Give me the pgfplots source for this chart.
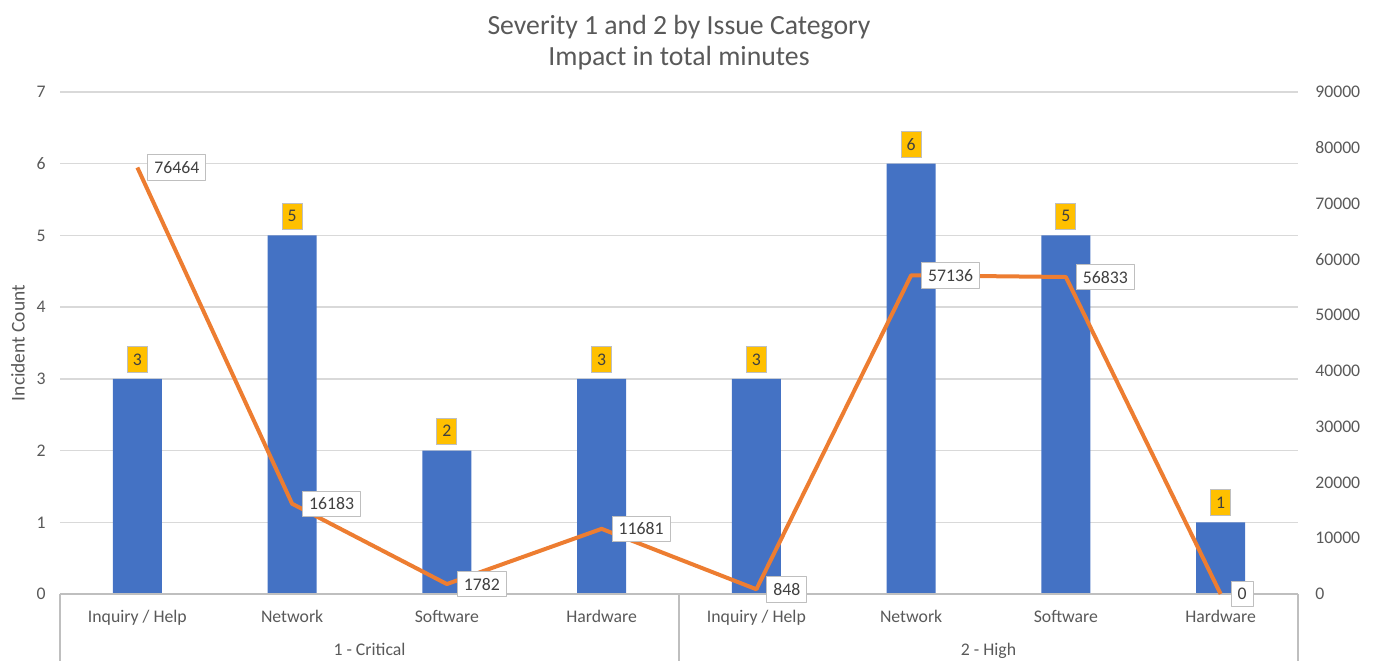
\documentclass[border=0pt]{standalone}
\usepackage{pgfplots}
\pgfplotsset{compat=1.18}
\usepackage{fontspec}
\setmainfont{Carlito}
\definecolor{barblue}{HTML}{4472C4}
\definecolor{lineorange}{HTML}{ED7D31}
\definecolor{txt}{HTML}{595959}
\definecolor{lbl}{HTML}{404040}
\definecolor{gridc}{HTML}{D9D9D9}
\definecolor{axisc}{HTML}{BFBFBF}
\definecolor{gold}{HTML}{FFC000}
\newcommand{\ticks}{\fontsize{13.3pt}{16pt}\selectfont}
\newcommand{\ylab}{\fontsize{14.6pt}{17pt}\selectfont}
\newcommand{\titlef}{\fontsize{20.8pt}{24pt}\selectfont}
\begin{document}
\begin{tikzpicture}
\begin{axis}[
  name=main,
  scale only axis, width=928.5pt, height=376.5pt,
  xmin=-0.5, xmax=7.5, ymin=0, ymax=7,
  clip=false,
  axis line style={draw=none},
  major tick length=0pt,
  xtick={0,...,7},
  xticklabels={Inquiry / Help,Network,Software,Hardware,Inquiry / Help,Network,Software,Hardware},
  xticklabel style={anchor=base, yshift=-21pt, inner sep=0pt, font=\ticks, text=txt},
  ytick={0,...,7},
  yticklabel style={anchor=east, xshift=-10.5pt, inner sep=0pt, font=\ticks, text=txt},
  /pgf/number format/assume math mode=true,
  ymajorgrids, grid style={gridc, line width=1pt},
  ybar, bar width=36.75pt,
  nodes near coords,
  every node near coord/.append style={anchor=south, yshift=4.5pt, fill=gold, draw=axisc, line width=0.6pt,
     inner sep=0pt, minimum width=15pt, minimum height=19.5pt, font=\ticks, text=lbl},
]
\addplot[fill=barblue, draw=none] coordinates {(0,3) (1,5) (2,2) (3,3) (4,3) (5,6) (6,5) (7,1)};
\draw[axisc, line width=1pt] (axis cs:-0.5,0) -- (axis cs:7.5,0);
\draw[axisc, line width=1pt] (axis cs:-0.5,0) -- ++(0pt,-50.25pt);
\draw[axisc, line width=1pt] (axis cs:3.5,0) -- ++(0pt,-50.25pt);
\draw[axisc, line width=1pt] (axis cs:7.5,0) -- ++(0pt,-50.25pt);
\node[font=\ticks, text=txt, anchor=base, yshift=-45.75pt] at (axis cs:1.5,0) {1 - Critical};
\node[font=\ticks, text=txt, anchor=base, yshift=-45.75pt] at (axis cs:5.5,0) {2 - High};
\node[font=\ylab, text=txt, xshift=-31.5pt, rotate=90] at (rel axis cs:0,0.5) {Incident Count};
\node[font=\titlef, text=txt, anchor=base, yshift=42.75pt] at (rel axis cs:0.5,1) {Severity 1 and 2 by Issue Category};
\node[font=\titlef, text=txt, anchor=base, yshift=19.5pt] at (rel axis cs:0.5,1) {Impact in total minutes};
\end{axis}
\begin{axis}[
  scale only axis, width=928.5pt, height=376.5pt,
  xmin=-0.5, xmax=7.5, ymin=0, ymax=90000,
  clip=false,
  hide x axis,
  axis line style={draw=none},
  major tick length=0pt,
  ytick={0,10000,...,90000},
  yticklabel pos=right,
  scaled y ticks=false,
  yticklabel style={anchor=west, xshift=12.75pt, inner sep=0pt, font=\ticks, text=txt,
     /pgf/number format/fixed, /pgf/number format/precision=0, /pgf/number format/1000 sep={}},
  /pgf/number format/assume math mode=true,
  point meta=explicit symbolic,
  nodes near coords,
  every node near coord/.append style={anchor=west, xshift=7.5pt, fill=white, draw=axisc, line width=0.6pt,
     inner xsep=4.9pt, inner ysep=0pt, minimum height=19pt, font=\ticks, text=lbl},
]
\addplot[lineorange, line width=3pt, line join=round, mark=none] coordinates {
  (0,76464) [76464] (1,16183) [16183] (2,1782) [1782] (3,11681) [11681]
  (4,848) [848] (5,57136) [57136] (6,56833) [56833] (7,0) [0]};
\end{axis}
\pgfresetboundingbox
\path ([shift={(-45pt,-50.25pt)}]main.south west) rectangle ([shift={(57pt,69pt)}]main.north east);
\end{tikzpicture}
\end{document}
